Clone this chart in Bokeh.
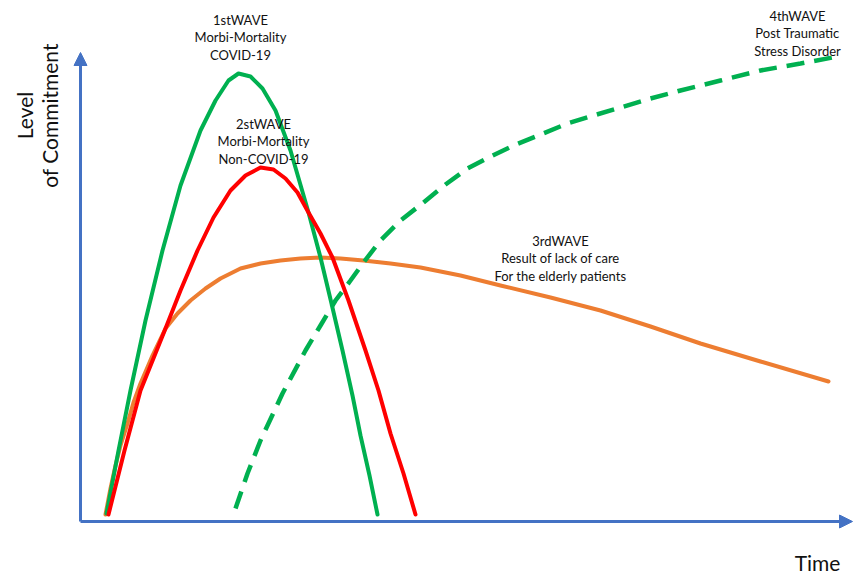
from bokeh.plotting import figure
from bokeh.models import Range1d, Arrow, NormalHead
from bokeh.core.properties import value
from bokeh.embed import file_html
from bokeh.resources import INLINE
import math

# ---- data (time units, level units) ----
wave1_t = [26, 38, 50, 65, 82, 100, 120, 135, 148, 158, 170, 182, 195, 210, 228, 240, 251, 262, 272, 280, 289, 297]
wave1_l = [8, 71, 131, 201, 271, 336, 391, 421, 441, 448, 445, 433, 411, 371, 309, 264, 218, 171, 126, 86, 46, 7]

wave2_t = [28, 44, 60, 85, 100, 117, 133, 150, 165, 180, 193, 205, 217, 228, 240, 252, 268, 285, 298, 310, 323, 335]
wave2_l = [7, 71, 131, 193, 231, 271, 304, 331, 346, 354, 352, 343, 329, 309, 288, 264, 221, 171, 131, 88, 48, 7]

wave3_t = [25, 30, 35, 40, 47, 53, 60, 72, 85, 97, 110, 125, 140, 160, 180, 200, 220, 240, 260, 283, 310, 340,
           380, 420, 470, 520, 570, 620, 680, 748]
wave3_l = [7, 33, 56, 76, 98, 119, 138, 166, 193, 208, 221, 233, 243, 253, 258, 261, 263, 264, 263, 261, 258, 254,
           246, 236, 224, 211, 195, 178, 160, 140]

wave4_t = [155, 167, 180, 202, 225, 240, 255, 270, 283, 300, 320, 343, 365, 387, 410, 433, 460, 487, 513, 540,
           570, 600, 640, 680, 720, 752]
wave4_l = [13, 48, 81, 128, 171, 196, 221, 241, 259, 281, 301, 319, 337, 353, 365, 376, 387, 398, 406, 414,
           423, 431, 441, 451, 458, 464]

labels = [
    "1stWAVE\nMorbi-Mortality\nCOVID-19",
    "2stWAVE\nMorbi-Mortality\nNon-COVID-19",
    "3rdWAVE\nResult of lack of care\nFor the elderly patients",
    "4thWAVE\nPost Traumatic\nStress Disorder",
]
label_t = [160, 183, 480, 717]
label_l = [484, 380, 263, 488]

axis_blue = "#4472C4"
green = "#00B050"
red = "#FF0000"
orange = "#ED7D31"
font = "Lato"

p = figure(width=854, height=575, output_backend="svg", toolbar_location=None,
           x_range=Range1d(-80, 774), y_range=Range1d(-54, 521), min_border=0)
p.axis.visible = False
p.grid.visible = False
p.outline_line_color = None

# axes with arrows
p.add_layout(Arrow(end=NormalHead(size=13, fill_color=axis_blue, line_color=axis_blue),
                   x_start=0, y_start=0, x_end=0, y_end=469,
                   line_color=axis_blue, line_width=3))
p.add_layout(Arrow(end=NormalHead(size=13, fill_color=axis_blue, line_color=axis_blue),
                   x_start=0, y_start=0, x_end=772, y_end=0,
                   line_color=axis_blue, line_width=3))

# curves
p.line(wave3_t, wave3_l, line_color=orange, line_width=4, line_cap="round", line_join="round")
p.line(wave1_t, wave1_l, line_color=green, line_width=4, line_cap="round", line_join="round")
p.line(wave2_t, wave2_l, line_color=red, line_width=4, line_cap="round", line_join="round")
p.line(wave4_t, wave4_l, line_color=green, line_width=4.5, line_dash="18 10")

# annotations
p.text(x=label_t, y=label_l, text=labels, text_font=value(font), text_font_size="13px",
       text_align="center", text_baseline="middle", text_color="#111111",
       text_line_height=1.08)

p.text(x=[-44], y=[406], text=["Level\nof Commitment"], angle=math.pi / 2,
       text_font=value(font), text_font_size="21px", text_align="center",
       text_baseline="middle", text_color="#111111", text_line_height=1.0)
p.text(x=[737], y=[-41], text=["Time"], text_font=value(font), text_font_size="21px",
       text_align="center", text_baseline="middle", text_color="#111111")

open("out.html", "w").write(file_html(p, INLINE))
